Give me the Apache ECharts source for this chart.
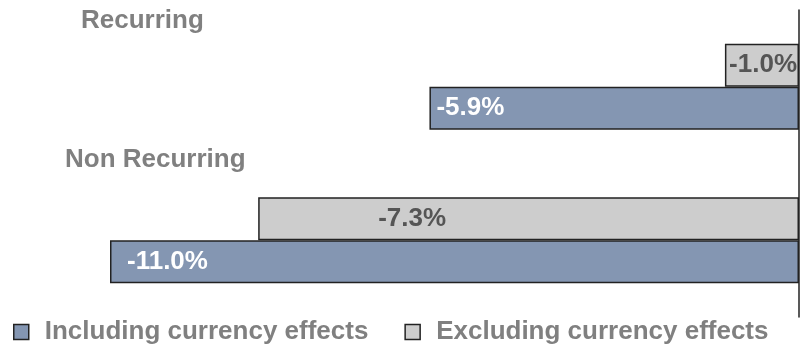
<!DOCTYPE html>
<html>
<head>
<meta charset="utf-8">
<script src="https://cdn.jsdelivr.net/npm/echarts@6/dist/echarts.min.js"></script>
<style>
  html, body { margin: 0; padding: 0; background: #fff; }
  #main { width: 801px; height: 346px; }
</style>
</head>
<body>
<div id="main"></div>
<script>
var categories = ['Recurring', 'Non Recurring'];
var seriesNames = ['Including currency effects', 'Excluding currency effects'];
var including = [-5.9, -11.0];
var excluding = [-1.0, -7.3];

// label placement per bar
var includingLabelPos = [{ position: 'insideLeft', distance: 7 }, { position: 'insideLeft', distance: 17 }];
var excludingLabelPos = [{ position: 'insideRight', distance: 2 }, { position: 'insideLeft', distance: 120 }];
var catLabelXY = [[81, 21], [65, 160]];

var font = "'Liberation Sans', Arial, sans-serif";
var blue = '#8496B2';
var grey = '#CDCDCD';
var textGrey = '#808080';

function fmt(v) { return v.toFixed(1) + '%'; }

function buildData(values, pos, color) {
    return values.map(function (v, i) {
        return {
            value: v,
            label: {
                show: true,
                position: pos[i].position,
                distance: pos[i].distance,
                color: color,
                fontSize: 26,
                fontWeight: 'bold',
                fontFamily: font,
                formatter: function (p) { return fmt(p.value); }
            }
        };
    });
}

var myChart = echarts.init(document.getElementById('main'));
var option = {
    animation: false,
    backgroundColor: '#fff',
    grid: { left: 110, right: 2, top: 10, height: 307 },
    xAxis: [
        { type: 'value', min: -11, max: 0, show: false },
        { type: 'value', min: -9.3, max: 0, show: false }
    ],
    yAxis: {
        type: 'category',
        data: categories,
        inverse: true,
        position: 'right',
        axisLine: { show: true, lineStyle: { color: '#222', width: 1.5 } },
        axisTick: { show: false },
        axisLabel: { show: false }
    },
    legend: {
        data: seriesNames,
        left: 8,
        top: 314,
        icon: 'rect',
        itemWidth: 15,
        itemHeight: 15,
        itemGap: 36,
        itemStyle: { borderColor: '#222', borderWidth: 1.5 },
        textStyle: {
            color: textGrey,
            fontSize: 26,
            fontWeight: 'bold',
            fontFamily: font,
            padding: [0, 0, 0, 11]
        }
    },
    graphic: categories.map(function (c, i) {
        return {
            type: 'text',
            x: catLabelXY[i][0],
            y: catLabelXY[i][1],
            style: {
                text: c,
                fill: textGrey,
                font: 'bold 26px ' + font,
                textAlign: 'left',
                textVerticalAlign: 'middle'
            }
        };
    }),
    // grey series first so it sits above the blue one in each band
    series: [
        {
            name: seriesNames[1],
            type: 'bar',
            xAxisIndex: 1,
            barWidth: 43,
            barGap: 0,
            itemStyle: { color: grey, borderColor: '#222', borderWidth: 1.5 },
            data: buildData(excluding, excludingLabelPos, '#555'),
            z: 2
        },
        {
            name: seriesNames[0],
            type: 'bar',
            xAxisIndex: 0,
            barWidth: 43,
            barGap: 0,
            itemStyle: { color: blue, borderColor: '#222', borderWidth: 1.5 },
            data: buildData(including, includingLabelPos, '#fff'),
            z: 2
        }
    ]
};
myChart.setOption(option);
</script>
</body>
</html>
